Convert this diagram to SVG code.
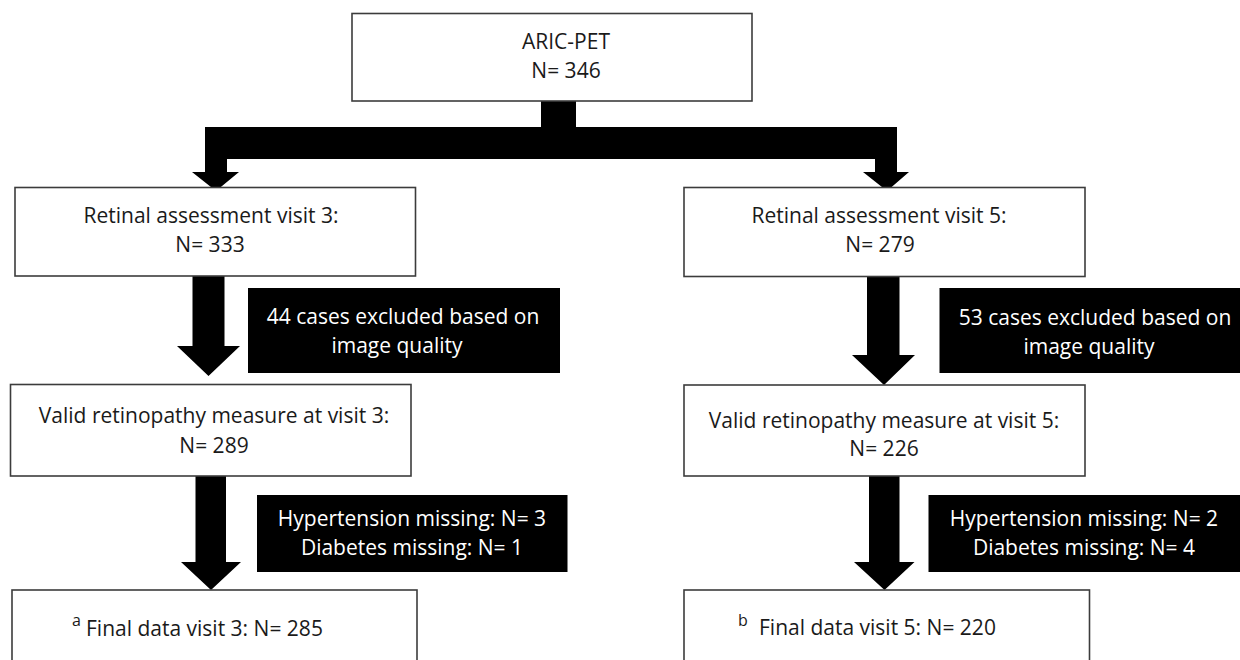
<svg xmlns="http://www.w3.org/2000/svg" width="1240" height="660" viewBox="0 0 1240 660">
<style>
  .box { fill: #ffffff; stroke: #3c3c3c; stroke-width: 1.6; }
  .dark { fill: #000000; }
  .t { font-family: "Open Sans", "Liberation Sans", sans-serif; font-size: 21px; fill: #1a1a1a; text-anchor: middle; }
  .w { font-family: "Open Sans", "Liberation Sans", sans-serif; font-size: 21px; fill: #ffffff; text-anchor: middle; }
  .tl { font-family: "Open Sans", "Liberation Sans", sans-serif; font-size: 21px; fill: #1a1a1a; }
  .sup { font-family: "Open Sans", "Liberation Sans", sans-serif; font-size: 16px; fill: #1a1a1a; }
  .arrow { fill: #000000; }
</style>
<rect width="1240" height="660" fill="#ffffff"/>
<g id="connectors">
  <polygon class="arrow" points="205,127 541,127 541,101 576,101 576,127 897,127 897,172 909,172 887,191 863,172 875,172 875,159 227,159 227,172 239,172 216,191 192,172 205,172"/>
  <polygon class="arrow" points="192.5,276 224.5,276 224.5,346 240,346 208.5,376 177,346 192.5,346"/>
  <polygon class="arrow" points="195.5,476 226,476 226,562 241,562 211,590 181,562 195.5,562"/>
  <polygon class="arrow" points="867,277 899.5,277 899.5,355 915,355 884,385 852,355 867,355"/>
  <polygon class="arrow" points="869,476 899.5,476 899.5,562 914.5,562 884.5,590 854,562 869,562"/>
</g>
<g id="aric-pet">
  <rect class="box" x="352" y="13.5" width="400" height="87.5"/>
  <text class="t" x="566" y="49">ARIC-PET</text>
  <text class="t" x="566" y="78">N= 346</text>
</g>
<g id="retinal-v3">
  <rect class="box" x="15" y="187.5" width="400.5" height="88.5"/>
  <text class="t" x="211" y="223">Retinal assessment visit 3:</text>
  <text class="t" x="210" y="252">N= 333</text>
</g>
<g id="retinal-v5">
  <rect class="box" x="684" y="187.5" width="401" height="89"/>
  <text class="t" x="879" y="223">Retinal assessment visit 5:</text>
  <text class="t" x="880" y="252">N= 279</text>
</g>
<g id="excluded-v3">
  <rect class="dark" x="248" y="288" width="312" height="85"/>
  <text class="w" x="403" y="324">44 cases excluded based on</text>
  <text class="w" x="397" y="353">image quality</text>
</g>
<g id="excluded-v5">
  <rect class="dark" x="939.5" y="288" width="310" height="85"/>
  <text class="w" x="1095" y="325">53 cases excluded based on</text>
  <text class="w" x="1089" y="354">image quality</text>
</g>
<g id="valid-v3">
  <rect class="box" x="10.5" y="384.5" width="400.5" height="91.5"/>
  <text class="t" x="214" y="423">Valid retinopathy measure at visit 3:</text>
  <text class="t" x="214" y="453">N= 289</text>
</g>
<g id="valid-v5">
  <rect class="box" x="684" y="385" width="401" height="91"/>
  <text class="t" x="884" y="428">Valid retinopathy measure at visit 5:</text>
  <text class="t" x="884" y="456">N= 226</text>
</g>
<g id="missing-v3">
  <rect class="dark" x="257" y="495" width="310.5" height="77"/>
  <text class="w" x="412" y="526">Hypertension missing: N= 3</text>
  <text class="w" x="412" y="555">Diabetes missing: N= 1</text>
</g>
<g id="missing-v5">
  <rect class="dark" x="928.5" y="495" width="320" height="77"/>
  <text class="w" x="1084" y="526">Hypertension missing: N= 2</text>
  <text class="w" x="1084" y="555">Diabetes missing: N= 4</text>
</g>
<g id="final-v3">
  <rect class="box" x="12" y="590" width="405" height="90"/>
  <text class="sup" x="72" y="626">a</text>
  <text class="tl" x="86" y="636">Final data visit 3: N= 285</text>
</g>
<g id="final-v5">
  <rect class="box" x="684" y="590" width="405.5" height="90"/>
  <text class="sup" x="738" y="626">b</text>
  <text class="tl" x="759" y="635">Final data visit 5: N= 220</text>
</g>
</svg>
